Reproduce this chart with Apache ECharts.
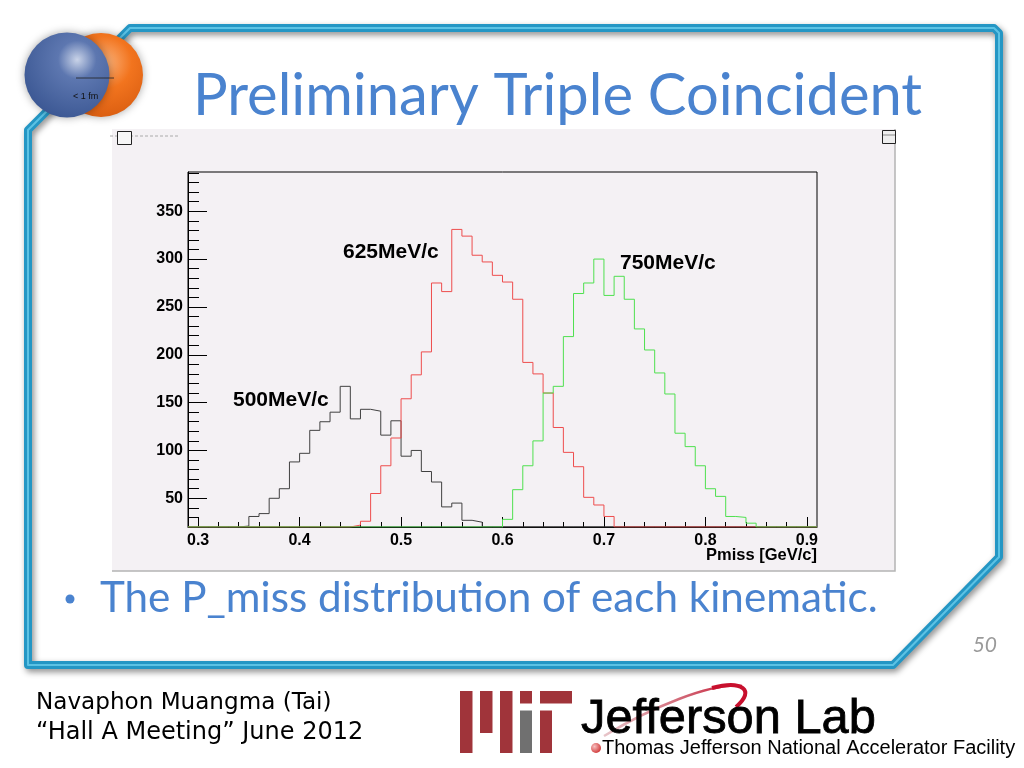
<!DOCTYPE html>
<html><head><meta charset="utf-8">
<script src="https://cdn.jsdelivr.net/npm/echarts@6/dist/echarts.min.js"></script>
<style>html,body{margin:0;padding:0;background:#fff}#c{width:1024px;height:768px}</style>
</head><body><div id="c"></div>
<script>
// ---- data (bin width 0.01 GeV/c) ----
const BIN_EDGES = [0.29,0.30,0.31,0.32,0.33,0.34,0.35,0.36,0.37,0.38,0.39,0.40,0.41,0.42,0.43,0.44,0.45,0.46,0.47,0.48,0.49,0.50,0.51,0.52,0.53,0.54,0.55,0.56,0.57,0.58,0.59,0.60,0.61,0.62,0.63,0.64,0.65,0.66,0.67,0.68,0.69,0.70,0.71,0.72,0.73,0.74,0.75,0.76,0.77,0.78,0.79,0.80,0.81,0.82,0.83,0.84,0.85,0.86,0.87,0.88,0.89,0.90,0.91];
const COUNTS_500 = [0,0,0,0,0, 21,31,34,50,60, 88,97,121,130,140, 167,133,143,141,116, 131,94,100,78,67, 41,45,27,25,
  0,0,0,0,0,0,0,0,0,0,0,0,0,0,0,0,0,0,0,0,0,0,0,0,0,0,0,0,0,0,0,0,0];
const COUNTS_625 = [0,0,0,0,0,0,0,0,0,0,0,0,0,0,0,0,
  22,26,55,84,113, 154,179,203,275,266, 331,324,304,297,283, 276,258,192,180,160, 124,98,83,51,43, 31,
  0,0,0,0,0,0,0,0,0,0,0,0,0,0,0,0,0,0,0,0];
const COUNTS_750 = [0,0,0,0,0,0,0,0,0,0,0,0,0,0,0,0,0,0,0,0,0,0,0,0,0,0,0,0,0,0,0,
  28,59,84,110,160, 167,219,264,275,300, 262,282,258,227,205, 181,159,118,104,84, 60,52,31,30,24,
  0,0,0,0,0,0];
const SERIES_NAMES = ['500MeV/c','625MeV/c','750MeV/c'];
const X_RANGE = [0.29, 0.91];
const Y_RANGE = [20, 391];
const X_MAJOR = [0.3,0.4,0.5,0.6,0.7,0.8,0.9];
const X_MINOR = [0.32,0.34,0.36,0.38,0.42,0.44,0.46,0.48,0.52,0.54,0.56,0.58,0.62,0.64,0.66,0.68,0.72,0.74,0.76,0.78,0.82,0.84,0.86,0.88];
const Y_MAJOR = [50,100,150,200,250,300,350];
const Y_MINOR = [30,40,60,70,80,90,110,120,130,140,160,170,180,190,210,220,230,240,260,270,280,290,310,320,330,340,360,370,380,390];
const X_TITLE = 'Pmiss [GeV/c]';
const SLIDE_TITLE = 'Preliminary Triple Coincident';
const BULLET = 'The P_miss distribution of each kinematic.';
const FOOT1 = 'Navaphon Muangma (Tai)';
const FOOT2 = '\u201CHall A Meeting\u201D June 2012';
const PAGE = '50';

// ---- helpers ----
const ctx = document.createElement('canvas').getContext('2d');
function fit(text, family, weight, style, w) {
  ctx.font = style + ' ' + weight + ' 100px ' + family;
  return 100 * w / ctx.measureText(text).width;
}
function hist(counts) {
  const d = counts.map((v, i) => [BIN_EDGES[i], Math.max(v, Y_RANGE[0])]);
  d.push([BIN_EDGES[BIN_EDGES.length - 1], Math.max(counts[counts.length - 1], Y_RANGE[0])]);
  return d;
}
const SLIDE_FONT = 'Lato';
const BLUE = '#4a83cf';
const titleSize = fit(SLIDE_TITLE, SLIDE_FONT, 'normal', 'normal', 729);
const bulletSize = fit(BULLET, SLIDE_FONT, 'normal', 'normal', 778);
const foot1Size = fit(FOOT1, 'DejaVu Sans', 'normal', 'normal', 296);
const foot2Size = fit(FOOT2, 'DejaVu Sans', 'normal', 'normal', 327);
const jlabSize = fit('Jefferson Lab', 'Liberation Sans', 'normal', 'normal', 295);
const jsubSize = fit('Thomas Jefferson National Accelerator Facility', 'Liberation Sans', 'normal', 'normal', 413);

const axisLbl = { color: '#000', fontFamily: 'Liberation Sans', fontWeight: 'bold', fontSize: 16 };
const MIT_RED = '#a0343a', MIT_GREY = '#707070';

const chart = echarts.init(document.getElementById('c'), null, { renderer: 'canvas' });
chart.setOption({
  animation: false,
  backgroundColor: '#ffffff',
  grid: { left: 188, top: 172, width: 629, height: 355, show: true, borderColor: '#000', borderWidth: 1, backgroundColor: 'transparent' },
  xAxis: [
    { type: 'value', min: X_RANGE[0], max: X_RANGE[1], position: 'bottom',
      axisLine: { show: true, lineStyle: { color: '#000', width: 1 } },
      axisTick: { show: true, inside: true, length: 10, customValues: X_MAJOR, lineStyle: { color: '#000' } },
      axisLabel: { show: true, customValues: X_MAJOR, formatter: v => v.toFixed(1), margin: 6, ...axisLbl },
      splitLine: { show: false } },
    { type: 'value', min: X_RANGE[0], max: X_RANGE[1], position: 'bottom',
      axisLine: { show: false },
      axisTick: { show: true, inside: true, length: 5, customValues: X_MINOR, lineStyle: { color: '#000' } },
      axisLabel: { show: false }, splitLine: { show: false } }
  ],
  yAxis: [
    { type: 'value', min: Y_RANGE[0], max: Y_RANGE[1], position: 'left',
      axisLine: { show: true, lineStyle: { color: '#000', width: 1 } },
      axisTick: { show: true, inside: true, length: 19, customValues: Y_MAJOR, lineStyle: { color: '#000' } },
      axisLabel: { show: true, customValues: Y_MAJOR, margin: 5, ...axisLbl },
      splitLine: { show: false } },
    { type: 'value', min: Y_RANGE[0], max: Y_RANGE[1], position: 'left',
      axisLine: { show: false },
      axisTick: { show: true, inside: true, length: 11, customValues: Y_MINOR, lineStyle: { color: '#000' } },
      axisLabel: { show: false }, splitLine: { show: false } }
  ],
  series: [
    { name: SERIES_NAMES[0], type: 'line', step: 'end', data: hist(COUNTS_500), showSymbol: false, lineStyle: { color: '#404040', width: 1 }, z: 2 },
    { name: SERIES_NAMES[1], type: 'line', step: 'end', data: hist(COUNTS_625), showSymbol: false, lineStyle: { color: '#ee4d4d', width: 1 }, z: 3 },
    { name: SERIES_NAMES[2], type: 'line', step: 'end', data: hist(COUNTS_750), showSymbol: false, lineStyle: { color: '#4fe04f', width: 1 }, z: 4 }
  ],
  graphic: [
    // ROOT canvas background
    { type: 'rect', z: -5, shape: { x: 112, y: 129, width: 783, height: 442 }, style: { fill: '#f4f1f4' } },
    { type: 'polyline', z: -4, shape: { points: [[895, 129], [895, 571], [112, 571]] }, style: { stroke: '#b4b4b4', lineWidth: 1.5, fill: null } },
    { type: 'line', z: -4, shape: { x1: 110, y1: 136, x2: 178, y2: 136 }, style: { stroke: '#aaa', lineWidth: 1, lineDash: [3, 2] } },
    { type: 'rect', z: 5, shape: { x: 117.5, y: 131.5, width: 14, height: 13 }, style: { fill: '#f6f6f6', stroke: '#222', lineWidth: 1 } },
    { type: 'rect', z: 5, shape: { x: 882.5, y: 130.5, width: 13, height: 13 }, style: { fill: '#eeeeee', stroke: '#222', lineWidth: 1 } },
    { type: 'line', z: 5, shape: { x1: 883, y1: 135, x2: 895, y2: 135 }, style: { stroke: '#888', lineWidth: 1 } },
    // histogram annotations
    { type: 'text', z: 10, x: 233, y: 400, style: { text: SERIES_NAMES[0], fill: '#000', font: 'bold 21px "Liberation Sans"', verticalAlign: 'middle' } },
    { type: 'text', z: 10, x: 343, y: 252, style: { text: SERIES_NAMES[1], fill: '#000', font: 'bold 21px "Liberation Sans"', verticalAlign: 'middle' } },
    { type: 'text', z: 10, x: 620, y: 263, style: { text: SERIES_NAMES[2], fill: '#000', font: 'bold 21px "Liberation Sans"', verticalAlign: 'middle' } },
    { type: 'text', z: 10, x: 817, y: 555, style: { text: X_TITLE, fill: '#000', font: 'bold 16.5px "Liberation Sans"', align: 'right', verticalAlign: 'middle' } },
    // slide frame
    { type: 'polygon', z: -8, shape: { points: [[130, 28], [994, 28], [999, 33], [999, 557], [893, 665], [28, 665], [28, 130]] },
      style: { fill: null, stroke: '#2496c4', lineWidth: 8, lineJoin: 'round', shadowBlur: 6, shadowColor: 'rgba(0,0,0,0.45)', shadowOffsetX: 2, shadowOffsetY: 3 } },
    { type: 'polygon', z: -7, shape: { points: [[130, 28], [994, 28], [999, 33], [999, 557], [893, 665], [28, 665], [28, 130]] },
      style: { fill: null, stroke: '#5cc2e4', lineWidth: 2, lineJoin: 'round' } },
    // logo spheres
    { type: 'circle', z: 6, shape: { cx: 101, cy: 75, r: 42 },
      style: { fill: { type: 'radial', x: 0.55, y: 0.35, r: 0.7, colorStops: [{ offset: 0, color: '#fbb27a' }, { offset: 0.45, color: '#f2741e' }, { offset: 1, color: '#d85c10' }] },
        shadowBlur: 8, shadowColor: 'rgba(0,0,0,0.35)' } },
    { type: 'circle', z: 7, shape: { cx: 67, cy: 75, r: 42.5 },
      style: { fill: { type: 'radial', x: 0.62, y: 0.32, r: 0.75, colorStops: [{ offset: 0, color: '#c9d3e8' }, { offset: 0.3, color: '#5d77b0' }, { offset: 1, color: '#3a5692' }] },
        shadowBlur: 8, shadowColor: 'rgba(0,0,0,0.35)' } },
    { type: 'line', z: 8, shape: { x1: 76, y1: 78, x2: 114, y2: 78 }, style: { stroke: '#222', lineWidth: 0.8 } },
    { type: 'text', z: 8, x: 73, y: 97, style: { text: '< 1 fm', fill: '#111', font: '9px "Liberation Sans"', verticalAlign: 'middle' } },
    // slide texts
    { type: 'text', z: 10, x: 193, y: 96, style: { text: SLIDE_TITLE, fill: BLUE, font: titleSize.toFixed(1) + 'px ' + SLIDE_FONT, verticalAlign: 'middle' } },
    { type: 'circle', z: 10, shape: { cx: 70, cy: 599, r: 4.5 }, style: { fill: BLUE } },
    { type: 'text', z: 10, x: 100, y: 598, style: { text: BULLET, fill: BLUE, font: bulletSize.toFixed(1) + 'px ' + SLIDE_FONT, verticalAlign: 'middle' } },
    { type: 'text', z: 10, x: 997, y: 645, style: { text: PAGE, fill: '#9a9a9a', font: 'italic 21px ' + SLIDE_FONT, align: 'right', verticalAlign: 'middle' } },
    { type: 'text', z: 10, x: 36, y: 703, style: { text: FOOT1, fill: '#000', font: foot1Size.toFixed(1) + 'px "DejaVu Sans"', verticalAlign: 'middle' } },
    { type: 'text', z: 10, x: 36, y: 733, style: { text: FOOT2, fill: '#000', font: foot2Size.toFixed(1) + 'px "DejaVu Sans"', verticalAlign: 'middle' } },
    // MIT logo
    { type: 'rect', shape: { x: 460, y: 691, width: 12.5, height: 62 }, style: { fill: MIT_RED } },
    { type: 'rect', shape: { x: 480, y: 691, width: 12.5, height: 42 }, style: { fill: MIT_RED } },
    { type: 'rect', shape: { x: 500, y: 691, width: 12.5, height: 62 }, style: { fill: MIT_RED } },
    { type: 'rect', shape: { x: 520, y: 691, width: 12, height: 12.5 }, style: { fill: MIT_RED } },
    { type: 'rect', shape: { x: 520, y: 710.5, width: 12, height: 42.5 }, style: { fill: MIT_GREY } },
    { type: 'rect', shape: { x: 540, y: 691, width: 32, height: 12.5 }, style: { fill: MIT_RED } },
    { type: 'rect', shape: { x: 540, y: 710.5, width: 12, height: 42.5 }, style: { fill: MIT_RED } },
    // Jefferson Lab logo (swoosh behind the text)
    { type: 'bezierCurve', z: 1, shape: { x1: 604, y1: 736, cpx1: 650, cpy1: 708, cpx2: 712, cpy2: 682, x2: 742, y2: 686 },
      style: { fill: null, lineWidth: 2.5, stroke: { type: 'linear', x: 0, y: 0, x2: 1, y2: 0, colorStops: [{ offset: 0, color: '#e8c8cc' }, { offset: 0.6, color: '#d06070' }, { offset: 1, color: '#c8102e' }] } } },
    { type: 'bezierCurve', z: 1, shape: { x1: 712, y1: 688, cpx1: 742, cpy1: 680, cpx2: 756, cpy2: 690, x2: 736, y2: 707 },
      style: { fill: null, lineWidth: 4, stroke: '#c8102e' } },
    { type: 'text', z: 10, x: 581, y: 720, style: { text: 'Jefferson Lab', fill: '#000', font: jlabSize.toFixed(1) + 'px "Liberation Sans"', verticalAlign: 'middle', stroke: '#000', lineWidth: 0.8 } },
    { type: 'circle', z: 10, shape: { cx: 596, cy: 748, r: 5 },
      style: { fill: { type: 'radial', x: 0.35, y: 0.35, r: 0.7, colorStops: [{ offset: 0, color: '#f7c0c0' }, { offset: 1, color: '#d03838' }] } } },
    { type: 'text', z: 10, x: 602, y: 748, style: { text: 'Thomas Jefferson National Accelerator Facility', fill: '#000', font: jsubSize.toFixed(1) + 'px "Liberation Sans"', verticalAlign: 'middle' } }
  ]
});
</script>
</body></html>
